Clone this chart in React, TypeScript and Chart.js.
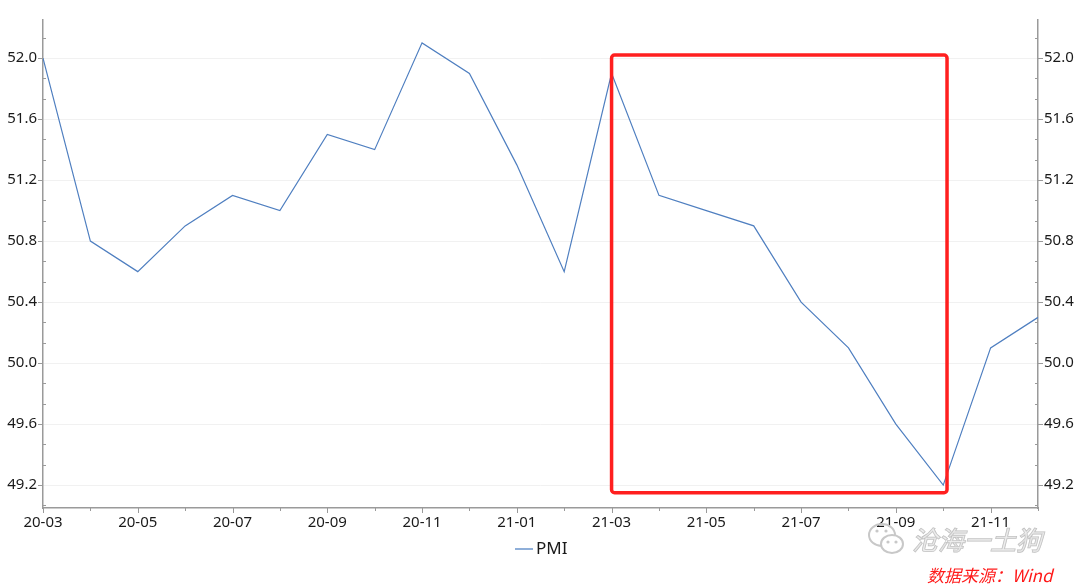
import React, { useEffect, useRef } from "react";
import { Chart, registerables } from "chart.js";

Chart.register(...registerables);

const months = [
  "20-03", "20-04", "20-05", "20-06", "20-07", "20-08", "20-09", "20-10", "20-11", "20-12",
  "21-01", "21-02", "21-03", "21-04", "21-05", "21-06", "21-07", "21-08", "21-09", "21-10",
  "21-11", "21-12",
];
const pmiValues = [
  52.0, 50.8, 50.6, 50.9, 51.1, 51.0, 51.5, 51.4, 52.1, 51.9,
  51.3, 50.6, 51.9, 51.1, 51.0, 50.9, 50.4, 50.1, 49.6, 49.2,
  50.1, 50.3,
];
const yTickValues = [49.2, 49.6, 50.0, 50.4, 50.8, 51.2, 51.6, 52.0];
const yMin = 49.05;
const yMax = 52.25;
const minorStep = 0.4 / 3;
// highlight box (category index range and value range)
const boxStartIndex = 12;
const boxEndIndex = 19.08;
const boxTop = 52.02;
const boxBottom = 49.15;

const seriesName = "PMI";
const watermarkText = "沧海一土狗";
const sourceText = "数据来源：Wind";

const FONT = "'Noto Sans', 'Open Sans', sans-serif";
const CJK = "'Noto Sans CJK SC', sans-serif";
const AXIS_COLOR = "#9a9a9a";

const overlayPlugin = {
  id: "overlay",
  afterDraw(chart: any) {
    const ctx = chart.ctx;
    const x = chart.scales.x;
    const yl = chart.scales.y;
    const yr = chart.scales.y2;
    const area = chart.chartArea;
    ctx.save();
    ctx.strokeStyle = AXIS_COLOR;
    ctx.lineWidth = 1;
    // y ticks
    const drawYTicks = (scale: any, side: number) => {
      const ax = side < 0 ? area.left : area.right;
      yTickValues.forEach((v) => {
        const py = Math.round(scale.getPixelForValue(v)) + 0.5;
        ctx.beginPath();
        ctx.moveTo(ax, py);
        ctx.lineTo(ax + side * 5, py);
        ctx.stroke();
      });
      for (let v = yTickValues[0] - minorStep; v <= yMax; v += minorStep) {
        const isMajor = yTickValues.some((t) => Math.abs(t - v) < 1e-6);
        if (isMajor || v < yMin) continue;
        const py = Math.round(scale.getPixelForValue(v)) + 0.5;
        ctx.beginPath();
        ctx.moveTo(ax, py);
        ctx.lineTo(ax - side * 3, py);
        ctx.stroke();
      }
    };
    drawYTicks(yl, -1);
    drawYTicks(yr, 1);
    // x ticks
    months.forEach((_, i) => {
      const px = Math.round(x.getPixelForValue(i)) + 0.5;
      ctx.beginPath();
      ctx.moveTo(px, area.bottom);
      ctx.lineTo(px, area.bottom + (i % 2 === 0 ? 5 : 3));
      ctx.stroke();
    });

    // highlight box
    const bx1 = x.getPixelForValue(boxStartIndex);
    const bx2 = x.getPixelForValue(boxEndIndex);
    const by1 = yl.getPixelForValue(boxTop);
    const by2 = yl.getPixelForValue(boxBottom);
    ctx.strokeStyle = "#ff1f1f";
    ctx.lineWidth = 3.5;
    ctx.beginPath();
    (ctx as any).roundRect(bx1, by1, bx2 - bx1, by2 - by1, 3);
    ctx.stroke();

    // legend
    const lx = 515;
    const ly = 549;
    ctx.strokeStyle = "#6a94cc";
    ctx.lineWidth = 1.5;
    ctx.beginPath();
    ctx.moveTo(lx, ly);
    ctx.lineTo(lx + 18, ly);
    ctx.stroke();
    ctx.fillStyle = "#1a1a1a";
    ctx.font = `17px ${FONT}`;
    ctx.textBaseline = "middle";
    ctx.textAlign = "left";
    ctx.fillText(seriesName, lx + 21, ly);

    // watermark icon
    ctx.strokeStyle = "#c8c8c8";
    ctx.lineWidth = 2;
    ctx.beginPath();
    ctx.ellipse(882, 535, 13, 11, 0, 0, Math.PI * 2);
    ctx.stroke();
    ctx.beginPath();
    ctx.ellipse(892, 544, 11, 9, 0, 0, Math.PI * 2);
    ctx.fillStyle = "#ffffff";
    ctx.fill();
    ctx.stroke();
    ctx.fillStyle = "#c8c8c8";
    [[877, 531], [886, 531], [888, 542], [896, 542]].forEach(([cx, cy]) => {
      ctx.beginPath();
      ctx.arc(cx, cy, 1.6, 0, Math.PI * 2);
      ctx.fill();
    });
    // watermark text
    ctx.font = `italic 26px ${CJK}`;
    ctx.textBaseline = "middle";
    ctx.lineWidth = 1.2;
    ctx.strokeStyle = "#bdbdbd";
    ctx.strokeText(watermarkText, 912, 540);
    ctx.fillStyle = "rgba(235,235,235,0.6)";
    ctx.fillText(watermarkText, 912, 540);

    // source text
    ctx.font = `italic 17px ${CJK}`;
    ctx.fillStyle = "#ff1a1a";
    ctx.fillText(sourceText, 927, 576);
    ctx.restore();
  },
};

export default function App() {
  const ref = useRef<HTMLCanvasElement | null>(null);
  useEffect(() => {
    if (!ref.current) return;
    const yTicksCfg = {
      callback: (v: any) => Number(v).toFixed(1),
      color: "#1a1a1a",
      font: { size: 15, family: FONT },
      padding: 6,
    };
    const chart = new Chart(ref.current, {
      type: "line",
      data: {
        labels: months,
        datasets: [
          {
            label: seriesName,
            data: pmiValues,
            borderColor: "#4f7fc0",
            borderWidth: 1.2,
            pointRadius: 0,
            tension: 0,
            fill: false,
            yAxisID: "y",
          },
        ],
      },
      options: {
        animation: false,
        responsive: false,
        maintainAspectRatio: false,
        layout: { padding: { top: 20, left: 0, right: 0, bottom: 0 } },
        plugins: { legend: { display: false }, tooltip: { enabled: false } },
        scales: {
          x: {
            type: "category",
            offset: false,
            grid: { display: false, drawTicks: false, tickLength: 0 },
            border: { display: true, color: AXIS_COLOR, width: 1.5 },
            ticks: {
              autoSkip: false,
              maxRotation: 0,
              minRotation: 0,
              padding: 6,
              color: "#1a1a1a",
              font: { size: 15, family: FONT },
              callback: (_v: any, i: number) => (i % 2 === 0 ? months[i] : ""),
            },
            afterFit: (s: any) => {
              s.height = 78;
            },
          },
          y: {
            position: "left",
            min: yMin,
            max: yMax,
            afterBuildTicks: (s: any) => {
              s.ticks = yTickValues.map((v) => ({ value: v }));
            },
            grid: { color: "#f1f1f1", drawTicks: false, tickLength: 0, lineWidth: 1 },
            border: { display: true, color: AXIS_COLOR, width: 1.5 },
            ticks: yTicksCfg,
            afterFit: (s: any) => {
              s.width = 43;
            },
          },
          y2: {
            position: "right",
            min: yMin,
            max: yMax,
            afterBuildTicks: (s: any) => {
              s.ticks = yTickValues.map((v) => ({ value: v }));
            },
            grid: { display: false, drawTicks: false, tickLength: 0 },
            border: { display: true, color: AXIS_COLOR, width: 1.5 },
            ticks: yTicksCfg,
            afterFit: (s: any) => {
              s.width = 42;
            },
          },
        },
      } as any,
      plugins: [overlayPlugin],
    });
    return () => chart.destroy();
  }, []);
  return (
    <div style={{ position: "fixed", left: 0, top: 0, width: 1080, height: 586, background: "#fff" }}>
      <canvas ref={ref} width={1080} height={586} style={{ width: 1080, height: 586 }} />
    </div>
  );
}
